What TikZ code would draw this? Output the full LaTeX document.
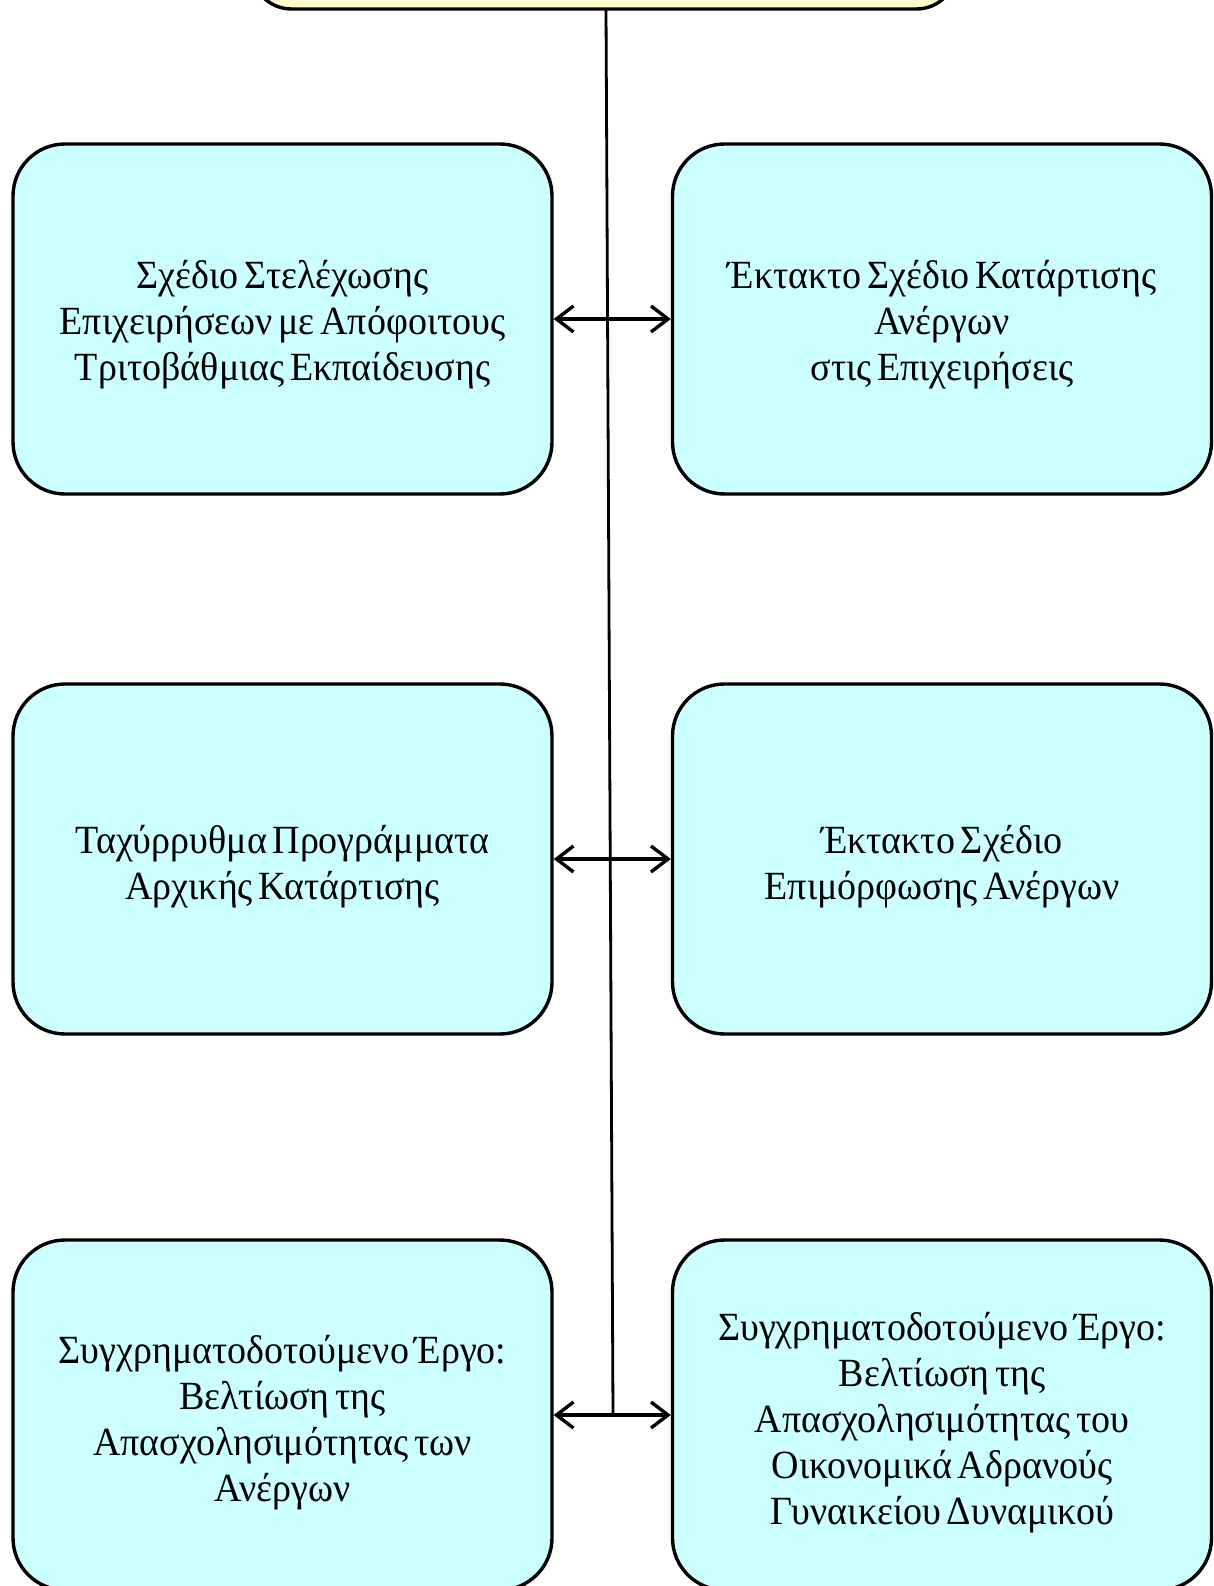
\documentclass[tikz,border=0pt]{standalone}
\usepackage{fontspec}
\setmainfont{Liberation Serif}[FakeStretch=0.95,WordSpace=0.6]
\usetikzlibrary{arrows.meta}
\definecolor{boxcyan}{HTML}{CCFFFF}
\definecolor{boxyellow}{HTML}{FFFFCC}
\tikzset{
  prog/.style={draw=black, line width=3.4pt, fill=boxcyan, rounded corners=52pt,
    minimum width=539pt, minimum height=350pt, inner sep=0pt},
  progtext/.style={align=center, inner sep=0pt,
    font=\fontsize{40pt}{46pt}\selectfont},
  topbox/.style={draw=black, line width=3.4pt, fill=boxyellow, rounded corners=40pt,
    minimum width=705pt, minimum height=100pt, inner sep=0pt},
  link/.style={line width=3.4pt, {Straight Barb[length=17pt,width=26pt]}-{Straight Barb[length=17pt,width=26pt]}},
  spine/.style={line width=2.8pt}
}
\begin{document}
\begin{tikzpicture}[x=1pt,y=-1pt]
\useasboundingbox (0,0) rectangle (1214,1586);
\node[topbox] (top) at (604,-41) {};
\node[prog] (l1) at (282.5,319) {};
\node[prog] (r1) at (942,319) {};
\node[prog] (l2) at (282.5,859) {};
\node[prog] (r2) at (942,859) {};
\node[prog] (l3) at (282.5,1415) {};
\node[prog] (r3) at (942,1415) {};
\node[progtext] (l1t) at ([yshift=-6pt]l1.center) {Σχέδιο Στελέχωσης\\Επιχειρήσεων με Απόφοιτους\\Τριτοβάθμιας Εκπαίδευσης};
\node[progtext] (r1t) at ([yshift=-6pt]r1.center) {Έκτακτο Σχέδιο Κατάρτισης\\Ανέργων\\στις Επιχειρήσεις};
\node[progtext] (l2t) at ([yshift=-8pt]l2.center) {Ταχύρρυθμα Προγράμματα\\Αρχικής Κατάρτισης};
\node[progtext] (r2t) at ([yshift=-8pt]r2.center) {Έκτακτο Σχέδιο\\Επιμόρφωσης Ανέργων};
\node[progtext] (l3t) at ([yshift=-8pt]l3.center) {Συγχρηματοδοτούμενο Έργο:\\Βελτίωση της\\Απασχολησιμότητας των\\Ανέργων};
\node[progtext] (r3t) at ([yshift=-8pt]r3.center) {Συγχρηματοδοτούμενο Έργο:\\Βελτίωση της\\Απασχολησιμότητας του\\Οικονομικά Αδρανούς\\Γυναικείου Δυναμικού};
\coordinate (spinetop) at (606,9);
\coordinate (spineend) at (613,1415);
\draw[spine] (spinetop) -- (spineend);
\draw[link] (l1.east) -- (r1.west);
\draw[link] (l2.east) -- (r2.west);
\draw[link] (l3.east) -- (r3.west);
\end{tikzpicture}
\end{document}
